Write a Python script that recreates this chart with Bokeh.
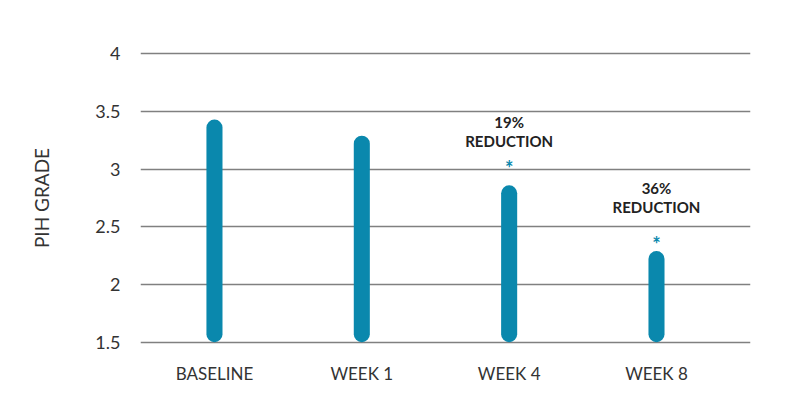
from bokeh.plotting import figure
from bokeh.models import Range1d, FixedTicker, ColumnDataSource
from bokeh.core.properties import value
from bokeh.embed import file_html
from bokeh.resources import INLINE

categories = ["BASELINE", "WEEK 1", "WEEK 4", "WEEK 8"]
pih_grade = [3.43, 3.29, 2.86, 2.29]
y_ticks = [1.5, 2, 2.5, 3, 3.5, 4]
y_tick_labels = ["1.5", "2", "2.5", "3", "3.5", "4"]
ann_index = [2, 3]
ann_pct = ["19%", "36%"]
ann_word = ["REDUCTION", "REDUCTION"]
ann_star = ["*", "*"]

TEAL = "#0a88ad"
FONT = "Lato"

xs = list(range(len(categories)))
src = ColumnDataSource(dict(x=xs, top=pih_grade, bottom=[y_ticks[0]] * len(xs)))

p = figure(width=792, height=391,
           x_range=Range1d(-0.502, 3.638), y_range=Range1d(1.48, 4.02),
           output_backend="svg", toolbar_location=None,
           min_border_left=140, min_border_right=42,
           min_border_top=51, min_border_bottom=47)
p.outline_line_color = None
p.background_fill_color = "white"
p.border_fill_color = "white"

p.xgrid.grid_line_color = None
p.ygrid.ticker = FixedTicker(ticks=y_ticks)
p.ygrid.grid_line_color = "#808080"
p.ygrid.grid_line_width = 1.4

p.yaxis.ticker = FixedTicker(ticks=y_ticks)
p.yaxis.major_label_overrides = {t: l for t, l in zip(y_ticks, y_tick_labels)}
p.xaxis.ticker = FixedTicker(ticks=xs)
p.xaxis.major_label_overrides = {i: c for i, c in zip(xs, categories)}
for ax in (p.xaxis, p.yaxis):
    ax.axis_line_color = None
    ax.major_tick_line_color = None
    ax.minor_tick_line_color = None
    ax.major_label_text_font = FONT
    ax.major_label_text_font_size = "18px"
    ax.major_label_text_color = "#333333"
p.xaxis.major_label_text_font_size = "17px"
p.xaxis.major_label_standoff = 12
p.yaxis.major_label_standoff = 14
p.yaxis.axis_label = "PIH GRADE"
p.yaxis.axis_label_text_font = FONT
p.yaxis.axis_label_text_font_size = "19px"
p.yaxis.axis_label_text_font_style = "normal"
p.yaxis.axis_label_text_color = "#333333"
p.yaxis.axis_label_standoff = 39

p.vbar(x="x", top="top", bottom="bottom", width=0.109, source=src,
       fill_color=TEAL, line_color=None, border_radius=8)

ann_y = [pih_grade[i] for i in ann_index]
star_offsets = [-17, -7]
for k, i in enumerate(ann_index):
    p.text(x=[i], y=[ann_y[k]], text=[ann_pct[k]], y_offset=-63,
           text_font=value(FONT), text_font_style="bold", text_font_size="15px",
           text_color="#222222", text_align="center", text_baseline="middle")
    p.text(x=[i], y=[ann_y[k]], text=[ann_word[k]], y_offset=-44,
           text_font=value(FONT), text_font_style="bold", text_font_size="15px",
           text_color="#222222", text_align="center", text_baseline="middle")
    p.text(x=[i], y=[ann_y[k]], text=[ann_star[k]], y_offset=star_offsets[k],
           text_font=value(FONT), text_font_style="bold", text_font_size="20px",
           text_color=TEAL, text_align="center", text_baseline="middle")

open("out.html", "w").write(file_html(p, INLINE))
